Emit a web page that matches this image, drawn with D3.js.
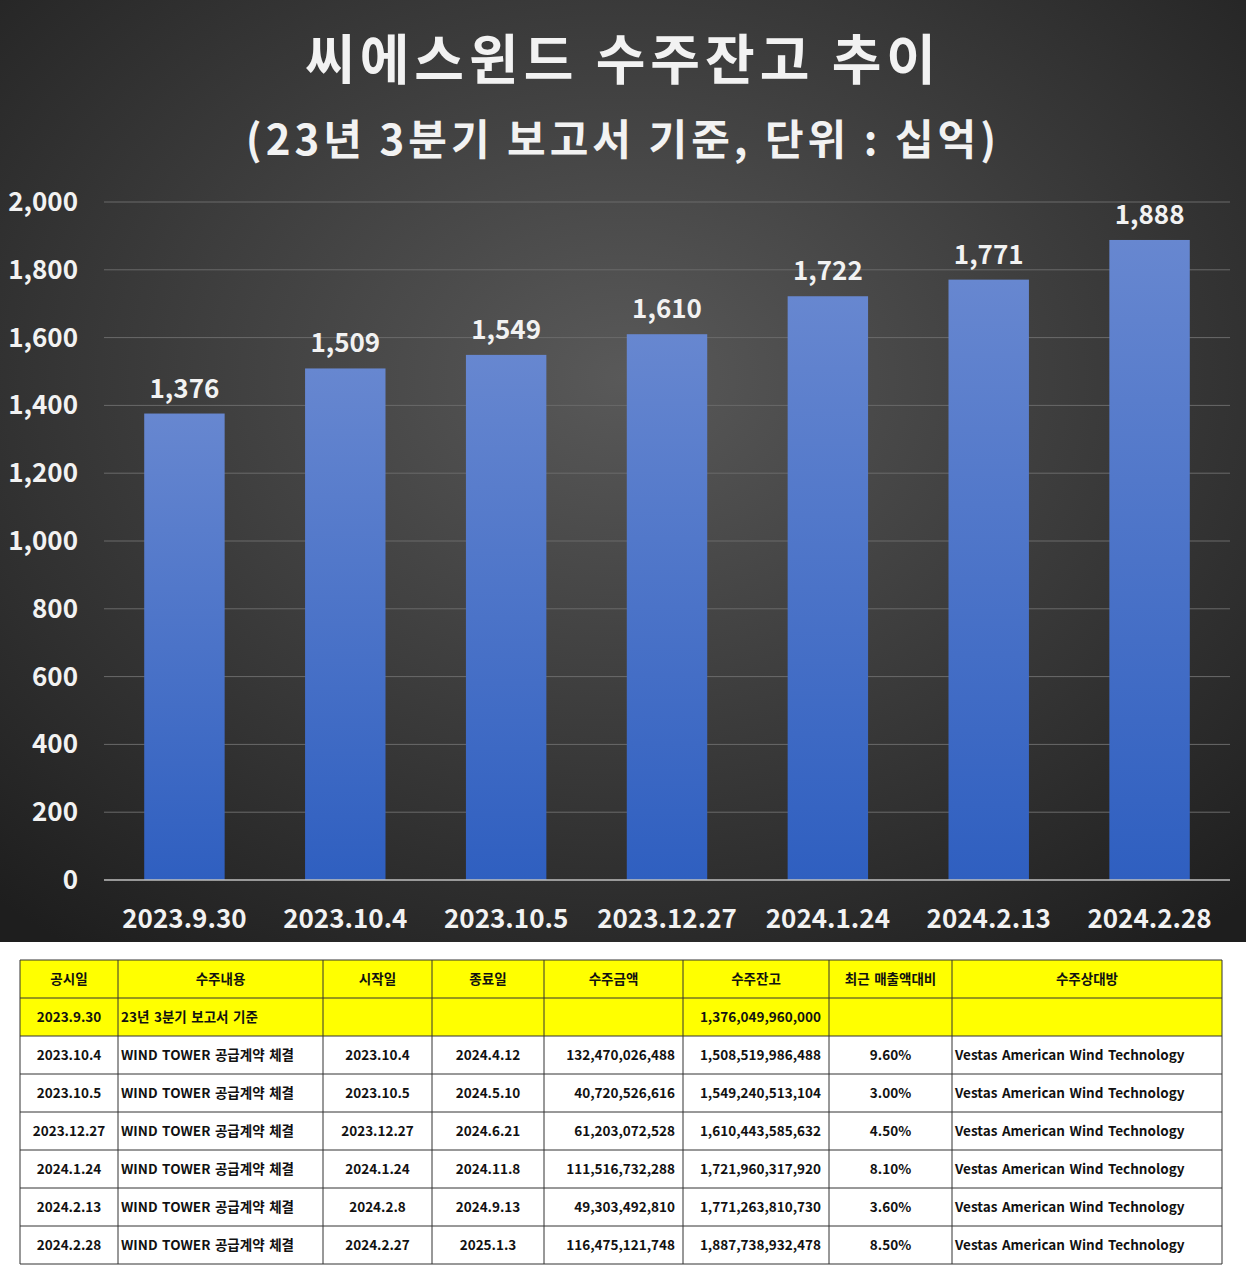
<!DOCTYPE html>
<html><head><meta charset="utf-8">
<script src="https://cdn.jsdelivr.net/npm/d3@7"></script>
<style>
body{margin:0;background:#fff;font-family:"Noto Sans CJK KR","Noto Sans",sans-serif;}
</style></head>
<body><svg id="c" width="1246" height="1280"></svg>
<script>
// chart data
const dates = ["2023.9.30","2023.10.4","2023.10.5","2023.12.27","2024.1.24","2024.2.13","2024.2.28"];
const backlog = [1376, 1509, 1549, 1610, 1722, 1771, 1888];
const yTicks = [0,200,400,600,800,1000,1200,1400,1600,1800,2000];

// table data
const headers = ["공시일","수주내용","시작일","종료일","수주금액","수주잔고","최근 매출액대비","수주상대방"];
const rows = [
  ["2023.9.30","23년 3분기 보고서 기준","","","","1,376,049,960,000","",""],
  ["2023.10.4","WIND TOWER 공급계약 체결","2023.10.4","2024.4.12","132,470,026,488","1,508,519,986,488","9.60%","Vestas American Wind Technology"],
  ["2023.10.5","WIND TOWER 공급계약 체결","2023.10.5","2024.5.10","40,720,526,616","1,549,240,513,104","3.00%","Vestas American Wind Technology"],
  ["2023.12.27","WIND TOWER 공급계약 체결","2023.12.27","2024.6.21","61,203,072,528","1,610,443,585,632","4.50%","Vestas American Wind Technology"],
  ["2024.1.24","WIND TOWER 공급계약 체결","2024.1.24","2024.11.8","111,516,732,288","1,721,960,317,920","8.10%","Vestas American Wind Technology"],
  ["2024.2.13","WIND TOWER 공급계약 체결","2024.2.8","2024.9.13","49,303,492,810","1,771,263,810,730","3.60%","Vestas American Wind Technology"],
  ["2024.2.28","WIND TOWER 공급계약 체결","2024.2.27","2025.1.3","116,475,121,748","1,887,738,932,478","8.50%","Vestas American Wind Technology"]
];

const svg = d3.select("#c");
const defs = svg.append("defs");
const bg = defs.append("radialGradient").attr("id","bg").attr("cx","50%").attr("cy","40%").attr("r","75%");
bg.append("stop").attr("offset","0%").attr("stop-color","#595959");
bg.append("stop").attr("offset","100%").attr("stop-color","#1e1e1e");
const bar = defs.append("linearGradient").attr("id","bar").attr("x1",0).attr("y1",0).attr("x2",0).attr("y2",1);
bar.append("stop").attr("offset","0%").attr("stop-color","#6787d0");
bar.append("stop").attr("offset","100%").attr("stop-color","#2f5fc0");

svg.append("rect").attr("width",1246).attr("height",942).attr("fill","url(#bg)");

svg.append("text").attr("x",623).attr("y",80).attr("text-anchor","middle")
  .attr("fill","#f2f2f2").attr("font-size",54).attr("font-weight",700).attr("letter-spacing",5)
  .text("씨에스윈드 수주잔고 추이");
svg.append("text").attr("x",623).attr("y",155).attr("text-anchor","middle")
  .attr("fill","#f2f2f2").attr("font-size",42).attr("font-weight",700).attr("letter-spacing",4)
  .text("(23년 3분기 보고서 기준, 단위 : 십억)");

const x = d3.scaleBand().domain(dates).range([104,1230]).paddingInner(0.5).paddingOuter(0.25);
const y = d3.scaleLinear().domain([0,2000]).range([880,202]);

svg.append("g").selectAll("line").data(yTicks.slice(1)).join("line")
  .attr("x1",104).attr("x2",1230).attr("y1",d=>y(d)).attr("y2",d=>y(d))
  .attr("stroke","#6a6a6a").attr("stroke-width",1);

svg.append("g").selectAll("rect").data(backlog).join("rect")
  .attr("x",(d,i)=>x(dates[i])).attr("width",x.bandwidth())
  .attr("y",d=>y(d)).attr("height",d=>y(0)-y(d)).attr("fill","url(#bar)");

svg.append("line").attr("x1",104).attr("x2",1230).attr("y1",y(0)).attr("y2",y(0))
  .attr("stroke","#bfbfbf").attr("stroke-width",1.5);

svg.append("g").selectAll("text").data(backlog).join("text")
  .attr("x",(d,i)=>x(dates[i])+x.bandwidth()/2).attr("y",d=>y(d)-16)
  .attr("text-anchor","middle").attr("fill","#f2f2f2").attr("font-size",26).attr("font-weight",700)
  .text(d=>d3.format(",")(d));

svg.append("g").selectAll("text").data(yTicks).join("text")
  .attr("x",78).attr("y",d=>y(d)+9).attr("text-anchor","end")
  .attr("fill","#f2f2f2").attr("font-size",26).attr("font-weight",700)
  .text(d=>d3.format(",")(d));

svg.append("g").selectAll("text").data(dates).join("text")
  .attr("x",d=>x(d)+x.bandwidth()/2).attr("y",928).attr("text-anchor","middle")
  .attr("fill","#f2f2f2").attr("font-size",26).attr("font-weight",700)
  .text(d=>d);

// table
const colX = [20,118,323,432,544,683,829,952,1222];
const rowY0 = 960, rowH = 38;
const align = ["middle","start","middle","middle","end","end","middle","start"];
const tg = svg.append("g").attr("font-size",13.5).attr("font-weight",700).attr("fill","#111").attr("word-spacing",1.5);
const allRows = [headers, ...rows];
allRows.forEach((r,ri)=>{
  const yy = rowY0 + ri*rowH;
  tg.append("rect").attr("x",colX[0]).attr("y",yy).attr("width",colX[8]-colX[0]).attr("height",rowH)
    .attr("fill", ri<2 ? "#ffff00" : "#fff");
  r.forEach((t,ci)=>{
    const a = ri===0 ? "middle" : align[ci];
    const tx = a==="middle" ? (colX[ci]+colX[ci+1])/2 : a==="start" ? colX[ci]+3 : colX[ci+1]-8;
    tg.append("text").attr("x",tx).attr("y",yy+rowH/2+5).attr("text-anchor",a).text(t);
  });
});
const lines = svg.append("g").attr("stroke","#333").attr("stroke-width",1);
d3.range(allRows.length+1).forEach(i=>{
  lines.append("line").attr("x1",colX[0]).attr("x2",colX[8]).attr("y1",rowY0+i*rowH).attr("y2",rowY0+i*rowH);
});
colX.forEach(cx=>{
  lines.append("line").attr("x1",cx).attr("x2",cx).attr("y1",rowY0).attr("y2",rowY0+allRows.length*rowH);
});
</script></body></html>
